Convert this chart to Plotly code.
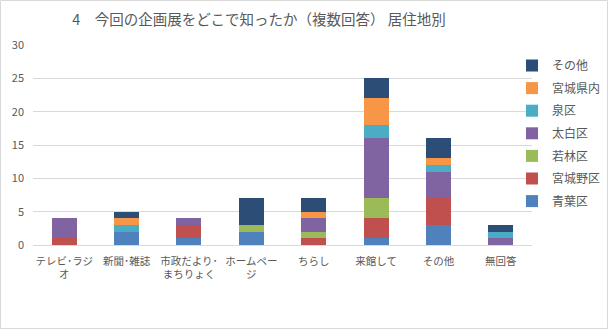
import plotly.graph_objects as go

categories = ["テレビ･ラジ<br>オ", "新聞･雑誌", "市政だより･<br>まちりょく", "ホームペー<br>ジ",
              "ちらし", "来館して", "その他", "無回答"]
series_names = ["青葉区", "宮城野区", "若林区", "太白区", "泉区", "宮城県内", "その他"]
aoba      = [0, 2, 1, 2, 0, 1, 3, 0]
miyagino  = [1, 0, 2, 0, 1, 3, 4, 0]
wakabayashi = [0, 0, 0, 1, 1, 3, 0, 0]
taihaku   = [3, 0, 1, 0, 2, 9, 4, 1]
izumi     = [0, 1, 0, 0, 0, 2, 1, 1]
kennai    = [0, 1, 0, 0, 1, 4, 1, 0]
other     = [0, 1, 0, 4, 2, 3, 3, 1]
series_values = [aoba, miyagino, wakabayashi, taihaku, izumi, kennai, other]
colors = ["#4F81BD", "#C0504D", "#9BBB59", "#8064A2", "#4BACC6", "#F79646", "#2C4D75"]
y_ticks = [0, 5, 10, 15, 20, 25, 30]

font_family = "Noto Sans CJK JP"
gray = "#595959"

fig = go.Figure()
n = len(series_names)
for i, (name, vals, col) in enumerate(zip(series_names, series_values, colors)):
    fig.add_trace(go.Bar(x=categories, y=vals, name=name, marker_color=col,
                         marker_line_width=0, legendgroup=name,
                         legendrank=1000 + (n - i)))

W, H = 608, 329
ml, mr, mt, mb = 33, 76, 45, 84
pw, ph = W - ml - mr, H - mt - mb

def px2x(p):
    return (p - ml) / pw

def py2y(p):
    return (H - mb - p) / ph

fig.update_layout(
    width=W, height=H,
    margin=dict(l=ml, r=mr, t=mt, b=mb, pad=0, autoexpand=False),
    barmode="stack",
    bargap=0.6,
    paper_bgcolor="white", plot_bgcolor="white",
    font=dict(family=font_family, color=gray, size=12),
    title=dict(text="4　今回の企画展をどこで知ったか（複数回答） 居住地別",
               x=259 / W, xanchor="center",
               y=1 - 20 / H, yanchor="middle",
               font=dict(size=14.5, color=gray, family=font_family)),
    xaxis=dict(showgrid=False, showline=True, linecolor="#D9D9D9", linewidth=1,
               ticks="", tickfont=dict(size=10.5, color=gray), tickangle=0,
               ticklabelstandoff=6),
    yaxis=dict(range=[0, 30], tickvals=y_ticks, showgrid=True, gridcolor="#D9D9D9",
               gridwidth=1, zeroline=False, showline=False, ticks="",
               tickfont=dict(size=11, color=gray), ticklabelstandoff=8),
    legend=dict(traceorder="grouped", x=px2x(512), xanchor="left",
                y=py2y(51), yanchor="top", tracegroupgap=3.6,
                font=dict(size=12, color=gray), itemwidth=30,
                bgcolor="rgba(0,0,0,0)"),
    shapes=[dict(type="rect", xref="paper", yref="paper",
                 x0=px2x(0.5), x1=px2x(W - 0.5), y0=py2y(H - 0.5), y1=py2y(0.5),
                 line=dict(color="#D9D9D9", width=1), layer="below")],
)

fig.write_html("out.html")
